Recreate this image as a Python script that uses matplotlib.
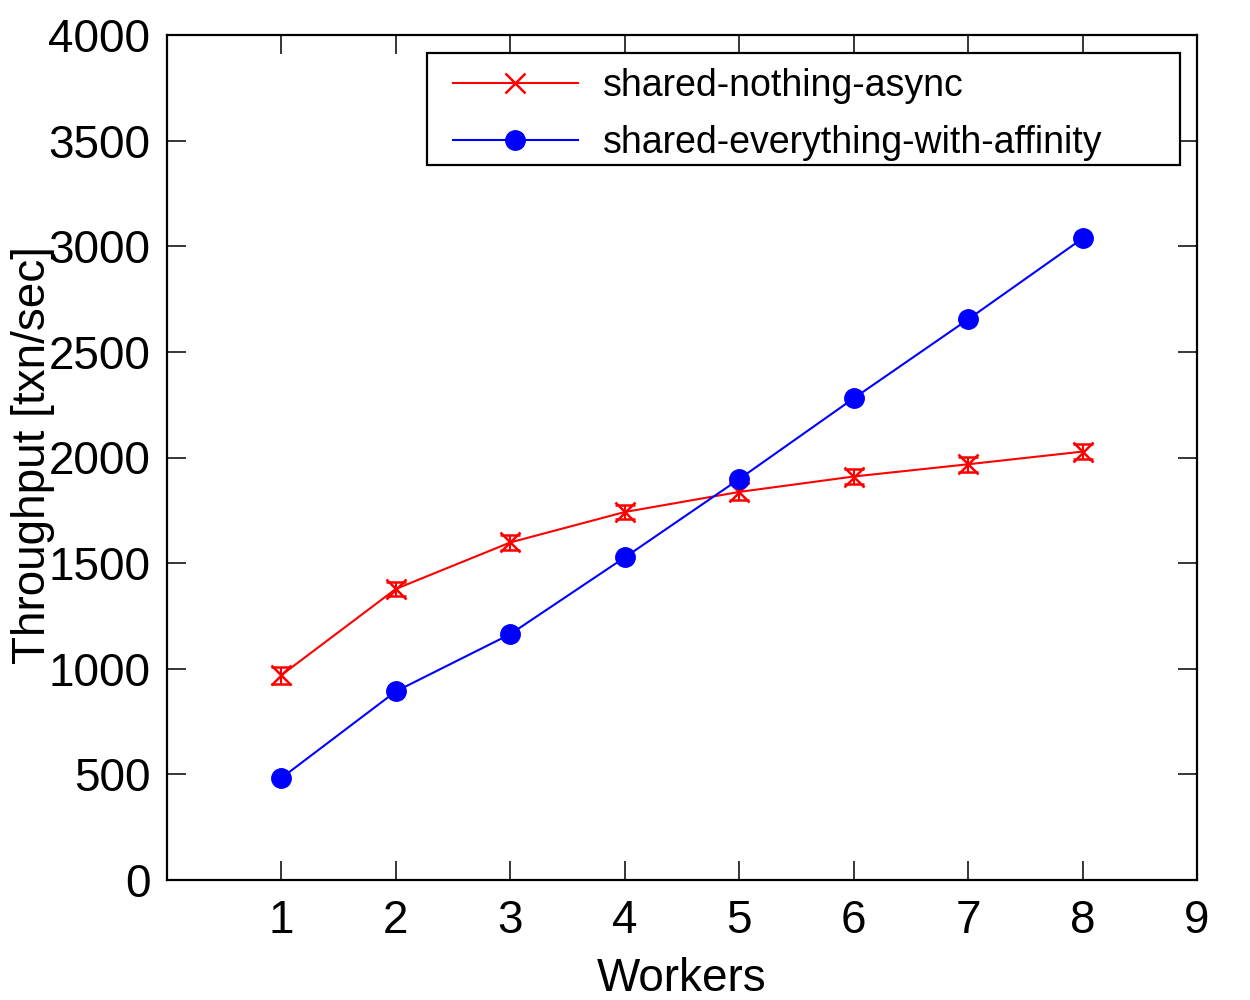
import numpy as np
import matplotlib
matplotlib.use('Agg')
import matplotlib.pyplot as plt
from matplotlib.patches import Rectangle

plt.rcParams['font.family'] = ['Liberation Sans', 'DejaVu Sans']

workers = [1, 2, 3, 4, 5, 6, 7, 8]
nothing_async = [970, 1378, 1598, 1742, 1837, 1910, 1968, 2028]
nothing_err = [40, 35, 35, 35, 40, 35, 35, 35]
everything_aff = [483, 893, 1164, 1527, 1898, 2280, 2654, 3037]

fig = plt.figure(figsize=(12.5, 10), dpi=100)
ax = fig.add_axes([167/1250, 120/1000, 1030/1250, 845/1000])

ax.plot(workers, nothing_async, color='#ff0000', lw=1.5, marker='x', ms=14,
        mew=1.8, label='shared-nothing-async')
ax.errorbar(workers, nothing_async, yerr=nothing_err, fmt='none',
            ecolor='#ff0000', elinewidth=1.5, capsize=7.5, capthick=1.8)
ax.plot(workers, everything_aff, color='#0000ff', lw=1.5, marker='o', ms=14,
        label='shared-everything-with-affinity')

ax.set_xlim(0, 9)
ax.set_ylim(0, 4000)
ax.set_xticks([1, 2, 3, 4, 5, 6, 7, 8, 9])
ax.set_yticks(np.arange(0, 4001, 500))
ax.tick_params(direction='in', length=13.7, width=1.1, labelsize=33,
               top=True, right=True)
ax.tick_params(axis='x', pad=14)
ax.tick_params(axis='y', pad=12)
for s in ax.spines.values():
    s.set_linewidth(1.6)

ax.set_xlabel('Workers', fontsize=33, va='top')
ax.xaxis.set_label_coords(515/1030, -77/845)
ax.set_ylabel('Throughput [txn/sec]', fontsize=33)
ax.yaxis.set_label_coords(-112/1030, 0.503)

# legend box like gnuplot: frame drawn by hand, entries without frame
leg = ax.legend(loc='upper left', bbox_to_anchor=(286/1030, 1 - 33/845),
                fontsize=27, frameon=False, borderpad=0, borderaxespad=0,
                handlelength=3.33, labelspacing=0.55, handletextpad=0.67)
frame = Rectangle((260/1030, 1 - 130/845), 753/1030, 112/845,
                  transform=ax.transAxes, fill=True, facecolor='white',
                  edgecolor='black', lw=1.6, zorder=4)
ax.add_patch(frame)
leg.set_zorder(5)

fig.savefig('out.png', dpi=100)
